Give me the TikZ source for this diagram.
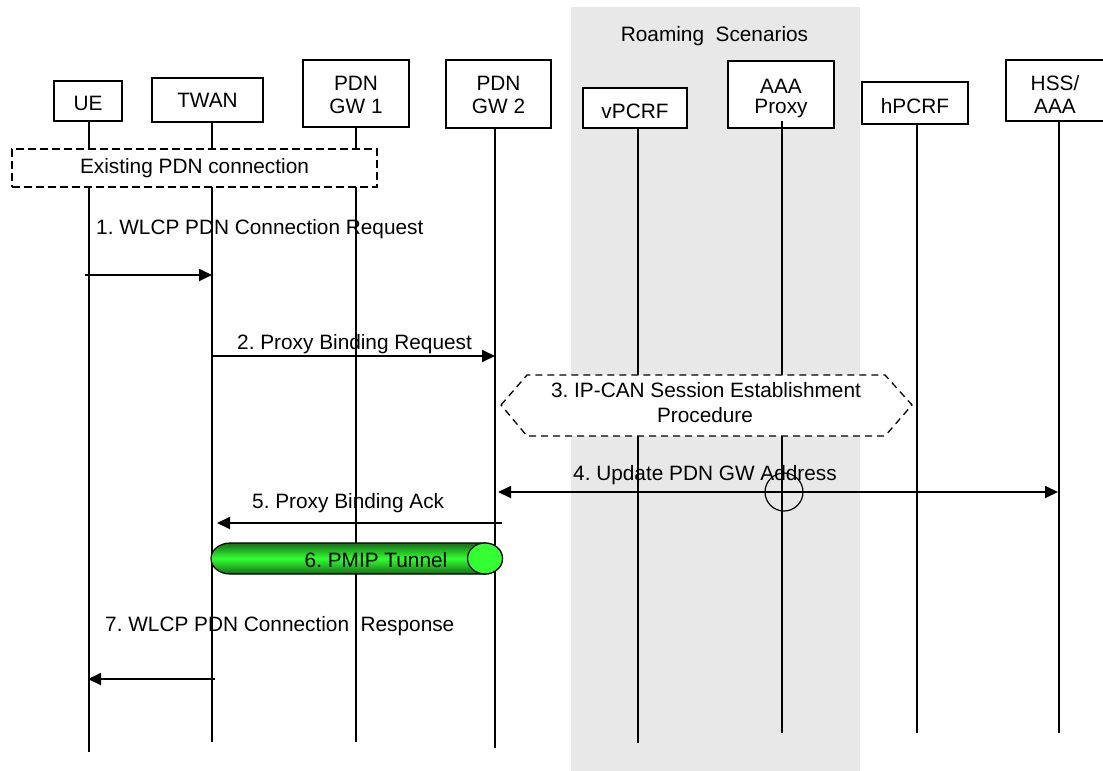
\documentclass[tikz,border=0pt]{standalone}
\usepackage{fontspec}
\setmainfont{Liberation Sans}
\usetikzlibrary{arrows.meta}
\definecolor{roam}{RGB}{232,232,232}
\definecolor{tgreen}{RGB}{51,255,51}
\definecolor{tdark}{RGB}{22,110,22}
\begin{document}
\frenchspacing
\begin{tikzpicture}[x=1pt,y=-1pt,
  lbl/.style={font=\fontsize{20.8}{23}\selectfont, inner sep=0pt, anchor=base},
  ent/.style={draw, line width=1.4pt, fill=white, inner sep=0pt},
  life/.style={line width=1.2pt},
  tip/.tip={Triangle[length=13pt,width=12pt]},
  msg/.style={line width=1.8pt, -tip},
  dmsg/.style={line width=1.8pt, tip-tip},
  dbox/.style={line width=1.3pt, dash pattern=on 8pt off 4pt, fill=white}
]
\useasboundingbox (0,0) rectangle (1103,771);
\fill[white] (0,0) rectangle (1103,771);
% roaming background
\fill[roam] (571,7) rectangle (860,771);
\node[lbl] (roamt) at (714.5,41) {Roaming\ \ Scenarios};

% lifeline coordinates
\coordinate (ue-top) at (89,101);   \coordinate (ue-end) at (89,752);
\coordinate (twan-top) at (212,100); \coordinate (twan-end) at (212,742);
\coordinate (gw1-top) at (356,94);  \coordinate (gw1-end) at (356,742);
\coordinate (gw2-top) at (495,94);  \coordinate (gw2-end) at (495,748);
\coordinate (vp-top) at (638,108);  \coordinate (vp-end) at (638,743);
\coordinate (aaa-top) at (782,121); \coordinate (aaa-end) at (782,733);
\coordinate (hp-top) at (917,103);  \coordinate (hp-end) at (917,733);
\coordinate (hss-top) at (1059,91); \coordinate (hss-end) at (1059,733);

\draw[life] (ue-top) -- (ue-end);
\draw[life] (twan-top) -- (twan-end);
\draw[life] (gw1-top) -- (gw1-end);
\draw[life] (gw2-top) -- (gw2-end);
\draw[life] (vp-top) -- (vp-end);
\draw[life] (hp-top) -- (hp-end);
\draw[life] (hss-top) -- (hss-end);

% entity boxes
\node[ent, minimum width=68pt, minimum height=40pt] (ue) at (88,101) {};
\node[lbl] (ue-t) at (88,110) {UE};
\node[ent, minimum width=111pt, minimum height=44pt] (twan) at (207.5,100) {};
\node[lbl] (twan-t) at (207.5,107) {TWAN};
\node[ent, minimum width=106pt, minimum height=67pt] (gw1) at (356,93.5) {};
\node[lbl] (gw1-t1) at (356,90) {PDN};
\node[lbl] (gw1-t2) at (356,113) {GW 1};
\node[ent, minimum width=105pt, minimum height=68pt] (gw2) at (498.5,94) {};
\node[lbl] (gw2-t1) at (498.5,90) {PDN};
\node[lbl] (gw2-t2) at (498.5,113) {GW 2};
\node[ent, minimum width=104pt, minimum height=40pt] (vp) at (635,108) {};
\node[lbl] (vp-t) at (635,118) {vPCRF};
\node[ent, minimum width=106pt, minimum height=67pt] (aaa) at (781,94.5) {};
\node[lbl] (aaa-t1) at (781,93) {AAA};
\node[lbl] (aaa-t2) at (781,113) {Proxy};
\node[ent, minimum width=106pt, minimum height=42pt] (hp) at (915,103) {};
\node[lbl] (hp-t) at (915,113) {hPCRF};
\node[ent, minimum width=104pt, minimum height=61pt] (hss) at (1058,90.5) {};
\node[lbl] (hss-t1) at (1055,90) {HSS/};
\node[lbl] (hss-t2) at (1055,113) {AAA};
\draw[life] (aaa-top) -- (aaa-end);

% existing PDN connection
\node[draw, dbox, minimum width=365pt, minimum height=38pt, inner sep=0pt] (exist) at (194.5,168) {};
\node[lbl] (exist-t) at (194.5,173) {Existing PDN connection};

% 1
\node[lbl, anchor=base west] (l1) at (96,234) {1. WLCP PDN Connection Request};
\coordinate (m1a) at (85,275); \coordinate (m1b) at (212,275);
\draw[msg] (m1a) -- (m1b);

% 2
\node[lbl, anchor=base west] (l2) at (237,349) {2. Proxy Binding Request};
\coordinate (m2a) at (212,356); \coordinate (m2b) at (495,356);
\draw[msg] (m2a) -- (m2b);

% 3 hexagon
\draw[dbox, dash pattern=on 7pt off 5pt] (501,405) -- (527,375) -- (885,375) -- (912,405) -- (885,436) -- (527,436) -- cycle;
\node[lbl] (l3a) at (706,397) {3. IP-CAN Session Establishment};
\node[lbl] (l3b) at (705,422) {Procedure};

% 4
\node[lbl, anchor=base east] (l4) at (837,480) {4. Update PDN GW Address};
\coordinate (m4a) at (498,492); \coordinate (m4b) at (1058,492);
\draw[dmsg] (m4a) -- (m4b);
\draw[line width=1.2pt] (784,492) circle [radius=19pt];

% 5
\node[lbl, anchor=base west] (l5) at (252,508) {5. Proxy Binding Ack};
\coordinate (m5a) at (502,523); \coordinate (m5b) at (217,523);
\draw[msg] (m5a) -- (m5b);

% 6 tunnel
\shadedraw[top color=tdark, bottom color=tdark, middle color=tgreen, draw=black, line width=1.2pt]
  (230,543) -- (485,543) arc[start angle=90, end angle=-90, x radius=17.5pt, y radius=15.5pt]
  -- (230,574) arc[start angle=270, end angle=90, x radius=19pt, y radius=15.5pt] -- cycle;
\draw[fill=tgreen, line width=1.2pt] (485,558.5) ellipse [x radius=17.5pt, y radius=15.5pt];
\node[lbl] (l6) at (376,567) {6. PMIP Tunnel};

% 7
\node[lbl, anchor=base west] (l7) at (105,631) {7. WLCP PDN Connection\ \ Response};
\coordinate (m7a) at (215,679); \coordinate (m7b) at (88,679);
\draw[msg] (m7a) -- (m7b);
\end{tikzpicture}
\end{document}
